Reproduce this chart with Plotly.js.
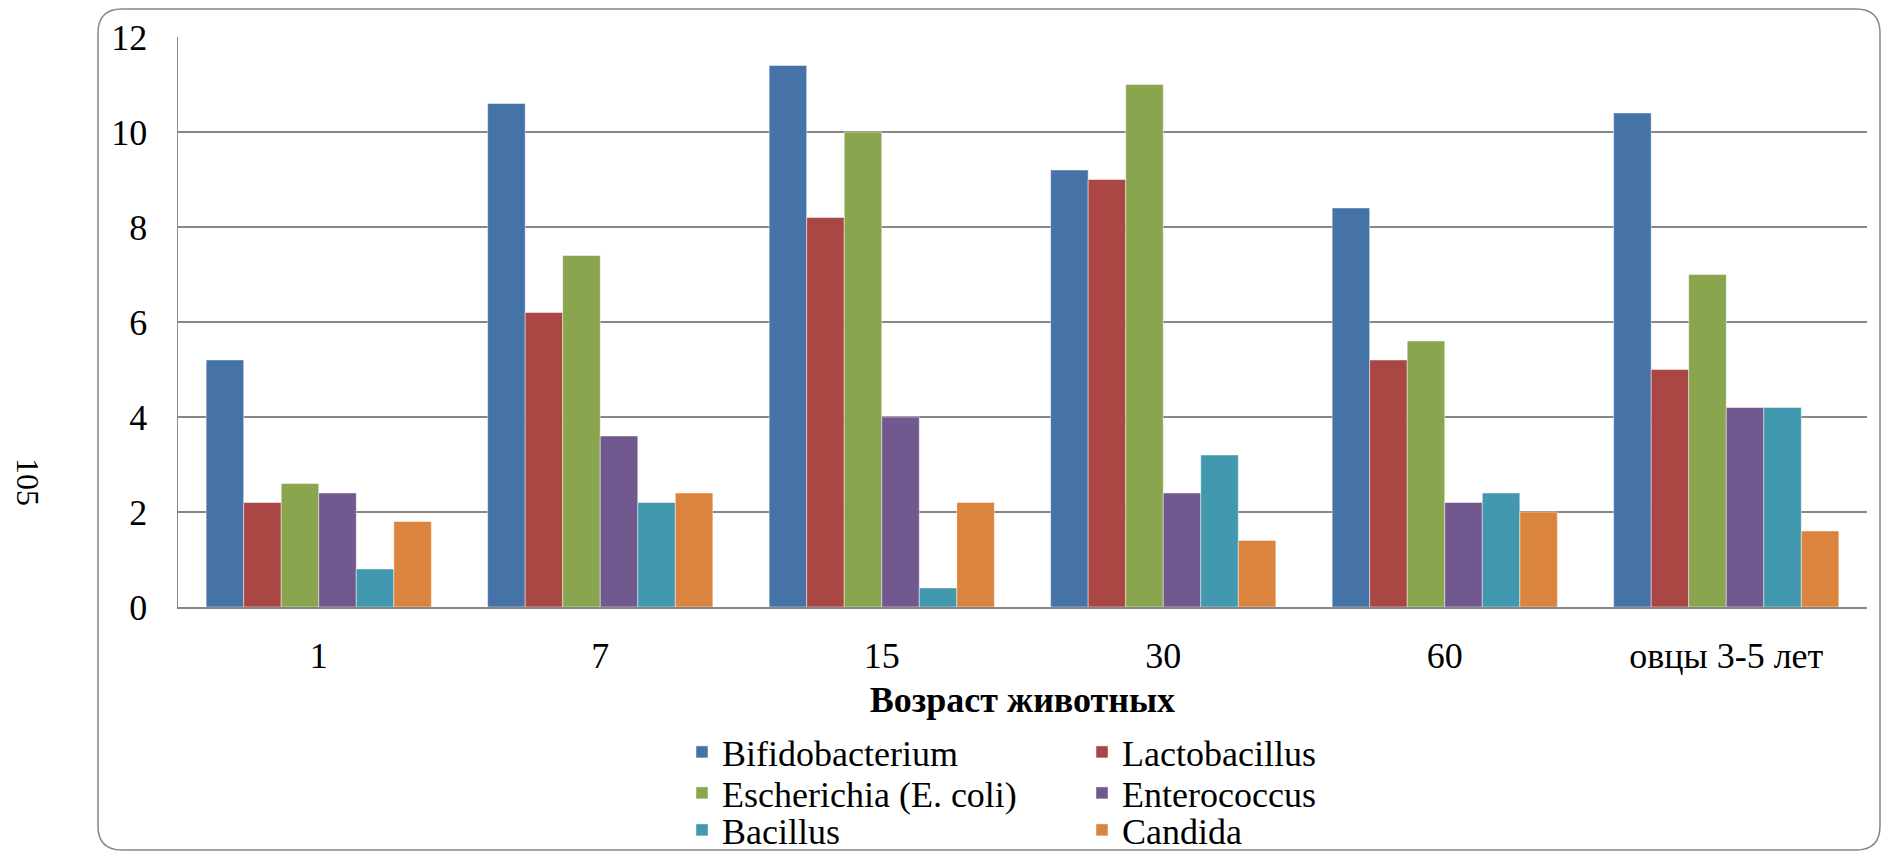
<!DOCTYPE html>
<html><head><meta charset="utf-8">
<script src="https://cdn.plot.ly/plotly-3.0.1.min.js"></script>
<style>html,body{margin:0;padding:0;background:#fff;}#chart{width:1881px;height:851px;}</style>
</head><body><div id="chart"></div>
<script>
const categories = ['1', '7', '15', '30', '60', 'овцы 3-5 лет'];
const seriesNames = ['Bifidobacterium', 'Lactobacillus', 'Escherichia (E. coli)', 'Enterococcus', 'Bacillus', 'Candida'];
const bifidobacterium = [5.2, 10.6, 11.4, 9.2, 8.4, 10.4];
const lactobacillus   = [2.2, 6.2, 8.2, 9.0, 5.2, 5.0];
const escherichia     = [2.6, 7.4, 10.0, 11.0, 5.6, 7.0];
const enterococcus    = [2.4, 3.6, 4.0, 2.4, 2.2, 4.2];
const bacillus        = [0.8, 2.2, 0.4, 3.2, 2.4, 4.2];
const candida         = [1.8, 2.4, 2.2, 1.4, 2.0, 1.6];
const yTickValues = [0, 2, 4, 6, 8, 10, 12];
const xAxisTitle = 'Возраст животных';
const sideLabel = '105';

const seriesValues = [bifidobacterium, lactobacillus, escherichia, enterococcus, bacillus, candida];
const colors = ['#4572A7', '#AA4643', '#89A54E', '#71588F', '#4198AF', '#DB843D'];
const legendIds = ['legend', 'legend', 'legend2', 'legend2', 'legend3', 'legend3'];

const W = 1881, H = 851;
const M = {l: 178, r: 14, t: 37, b: 244};
const PW = W - M.l - M.r, PH = H - M.t - M.b;
const px = X => (X - M.l) / PW;
const py = Y => (H - M.b - Y) / PH;
const cx = X => X / W;
const cy = Y => 1 - Y / H;

function roundedRect(x0, y0, x1, y1, r) {
  const p = (X, Y) => px(X) + ',' + py(Y);
  return 'M' + p(x0 + r, y0) + ' L' + p(x1 - r, y0) + ' Q' + p(x1, y0) + ' ' + p(x1, y0 + r) +
    ' L' + p(x1, y1 - r) + ' Q' + p(x1, y1) + ' ' + p(x1 - r, y1) +
    ' L' + p(x0 + r, y1) + ' Q' + p(x0, y1) + ' ' + p(x0, y1 - r) +
    ' L' + p(x0, y0 + r) + ' Q' + p(x0, y0) + ' ' + p(x0 + r, y0) + ' Z';
}

const FONT = 'Liberation Serif';
const FS = 36;
const serifFont = size => ({family: FONT, size: size, color: '#000'});

const traces = seriesNames.map((name, i) => ({
  type: 'bar',
  name: name,
  x: categories,
  y: seriesValues[i],
  legend: legendIds[i],
  marker: {color: colors[i], line: {color: 'rgba(255,255,255,0.45)', width: 1}},
  hoverinfo: 'x+y+name'
}));

function makeLegend(Y) {
  return {
    orientation: 'h', xref: 'container', yref: 'container',
    x: cx(682), y: cy(Y), xanchor: 'left', yanchor: 'middle',
    entrywidth: 355, entrywidthmode: 'pixels',
    font: serifFont(FS),
    bgcolor: 'rgba(0,0,0,0)', borderwidth: 0
  };
}

const layout = {
  width: W, height: H,
  margin: M,
  paper_bgcolor: '#fff', plot_bgcolor: '#fff',
  font: serifFont(FS),
  barmode: 'group', bargap: 0.2, bargroupgap: 0,
  showlegend: true,
  xaxis: {
    type: 'category',
    showgrid: false, zeroline: false,
    showline: true, linecolor: '#878787', linewidth: 1.5,
    ticks: '', ticklabelstandoff: 16,
    tickfont: serifFont(FS),
    automargin: false,
    title: {text: xAxisTitle, font: {family: FONT, size: FS, color: '#000', weight: 'bold'}, standoff: 12}
  },
  yaxis: {
    range: [0, 12], tickvals: yTickValues,
    showgrid: true, gridcolor: '#878787', gridwidth: 1.5,
    zeroline: false, showline: true, linecolor: '#878787', linewidth: 1.5,
    ticks: '', ticklabelstandoff: 22,
    tickfont: serifFont(FS),
    automargin: false
  },
  legend: makeLegend(752),
  legend2: makeLegend(793),
  legend3: makeLegend(830),
  annotations: [{
    text: sideLabel, xref: 'paper', yref: 'paper',
    x: px(28), y: py(482), xanchor: 'center', yanchor: 'middle',
    textangle: 90, showarrow: false,
    font: serifFont(32)
  }],
  shapes: [{
    type: 'path', xref: 'paper', yref: 'paper',
    path: roundedRect(98, 9, 1880, 850, 24),
    line: {color: '#878787', width: 1.5},
    fillcolor: 'rgba(0,0,0,0)', layer: 'below'
  }]
};

Plotly.newPlot('chart', traces, layout, {displayModeBar: false, staticPlot: true});
</script>
</body></html>
